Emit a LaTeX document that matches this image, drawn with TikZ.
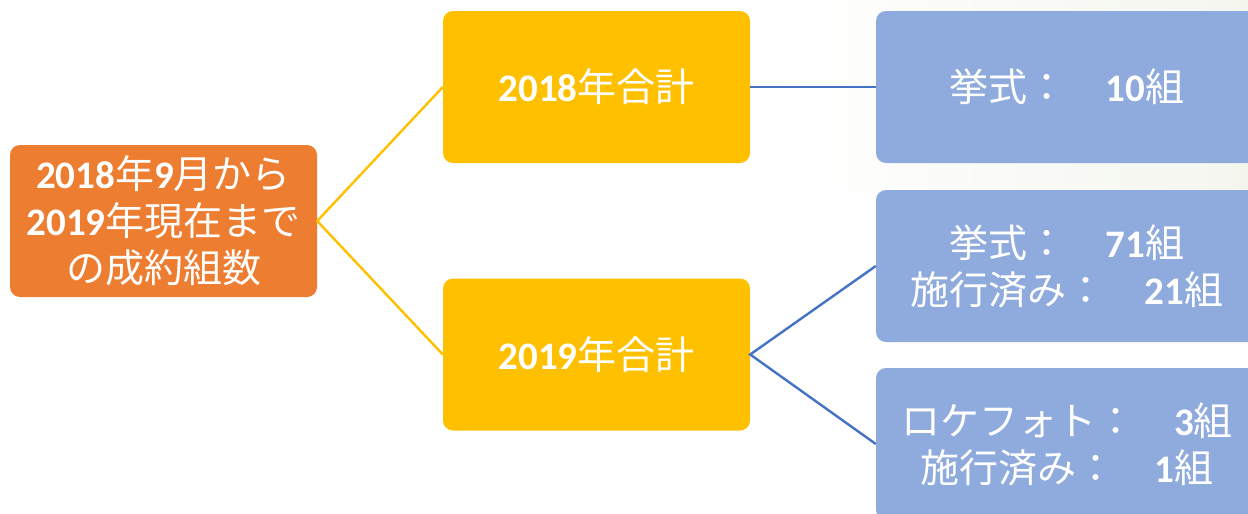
\documentclass[tikz,border=0pt]{standalone}
\usepackage{fontspec}
\setmainfont{Noto Sans CJK JP}
\newfontfamily\digitfont{Carlito}
\newcommand{\nb}[1]{{\digitfont\bfseries #1}}
\definecolor{rootorange}{HTML}{ED7D31}
\definecolor{yearyellow}{HTML}{FFC000}
\definecolor{countblue}{HTML}{8FAADC}
\definecolor{linkblue}{HTML}{4472C4}
\definecolor{paleback}{HTML}{F4F6EE}
\tikzset{
  box/.style={rounded corners=10pt, text=white, minimum width=307pt, minimum height=152pt,
    inner sep=0pt, align=center, font=\fontsize{39}{47}\selectfont},
  countbox/.style={box, fill=countblue, minimum width=382pt},
  link/.style={line width=2.4pt},
}

\begin{document}
\begin{tikzpicture}[x=1pt,y=-1pt]
\useasboundingbox (0,0) rectangle (1248,514);
\clip (0,0) rectangle (1248,514);
\shade[left color=white, right color=paleback] (780,0) rectangle (1248,190);
\node[box, fill=rootorange] (root) at (163.5,221) {\nb{2018}年\nb{9}月から\\\nb{2019}年現在まで\\の成約組数};
\node[box, fill=yearyellow] (y2018) at (596.5,87) {\nb{2018}年合計};
\node[box, fill=yearyellow] (y2019) at (596.5,354.5) {\nb{2019}年合計};
\node[countbox] (c2018) at (1067,87) {挙式：　\nb{10}組};
\node[countbox] (c2019) at (1067,266) {挙式：　\nb{71}組\\施行済み：　\nb{21}組};
\node[countbox] (loke) at (1067,444) {ロケフォト：　\nb{3}組\\施行済み：　\nb{1}組};
\draw[link, yearyellow] (y2018.west) -- (root.east) -- (y2019.west);
\draw[link, linkblue] (y2018.east) -- (c2018.west);
\draw[link, linkblue] (c2019.west) -- (y2019.east) -- (loke.west);
\end{tikzpicture}
\end{document}
